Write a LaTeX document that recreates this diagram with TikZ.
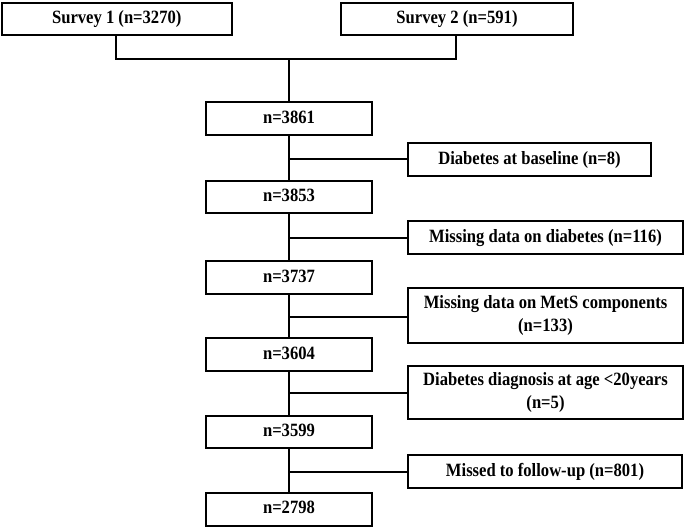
\documentclass[tikz,border=0pt]{standalone}
\usepackage{graphicx}
\usepackage{fontspec}
\setmainfont{Liberation Serif}
\newcommand{\tallt}[1]{\scalebox{1}[1.13]{\begin{tabular}{@{}c@{}}#1\end{tabular}}}
\begin{document}
\begin{tikzpicture}[x=1pt,y=-1pt,
  box/.style={draw=black, line width=2pt, fill=white, inner sep=0pt, align=center,
    font=\fontsize{16.6}{20.3}\selectfont\bfseries},
  conn/.style={draw=black, line width=2pt}]
\useasboundingbox (0,0) rectangle (685,527);
\newcommand{\mybox}[6]{\node[box, minimum width={#4-#2}, minimum height={#5-#3}] (#1) at ({(#2+#4)/2},{(#3+#5)/2}) {\tallt{#6}};}
\mybox{s1}{1.5}{3}{232}{35}{Survey 1 (n=3270)}
\mybox{s2}{341}{3}{573}{35}{Survey 2 (n=591)}
\mybox{a}{206}{102}{372}{135}{n=3861}
\mybox{e1}{408}{143}{651}{176}{Diabetes at baseline (n=8)}
\mybox{b}{206}{181}{372}{213}{n=3853}
\mybox{e2}{408}{221}{683}{254}{Missing data on diabetes (n=116)}
\mybox{c}{206}{261}{372}{294}{n=3737}
\mybox{e3}{408}{288}{683}{343}{Missing data on MetS components\\(n=133)}
\mybox{d}{206}{338}{372}{371}{n=3604}
\mybox{e4}{408}{366}{683}{419}{Diabetes diagnosis at age <20years\\(n=5)}
\mybox{f}{206}{416}{372}{448}{n=3599}
\mybox{e5}{408}{455}{682}{488}{Missed to follow-up (n=801)}
\mybox{g}{206}{493}{372}{525.5}{n=2798}
\coordinate (j1) at (116,59);
\coordinate (j2) at (456,59);
\draw[conn] (s1.south -| j1) -- (j1) -- (j2) -- (s2.south -| j2);
\draw[conn] (a.north |- j1) -- (a.north);
\draw[conn] (a.south) -- (b.north);
\draw[conn] (b.south) -- (c.north);
\draw[conn] (c.south) -- (d.north);
\draw[conn] (d.south) -- (f.north);
\draw[conn] (f.south) -- (g.north);
\draw[conn] (a.south |- 0,159) -- (e1.west |- 0,159);
\draw[conn] (a.south |- 0,238) -- (e2.west |- 0,238);
\draw[conn] (a.south |- 0,317) -- (e3.west |- 0,317);
\draw[conn] (a.south |- 0,393) -- (e4.west |- 0,393);
\draw[conn] (a.south |- 0,472) -- (e5.west |- 0,472);
\end{tikzpicture}
\end{document}
